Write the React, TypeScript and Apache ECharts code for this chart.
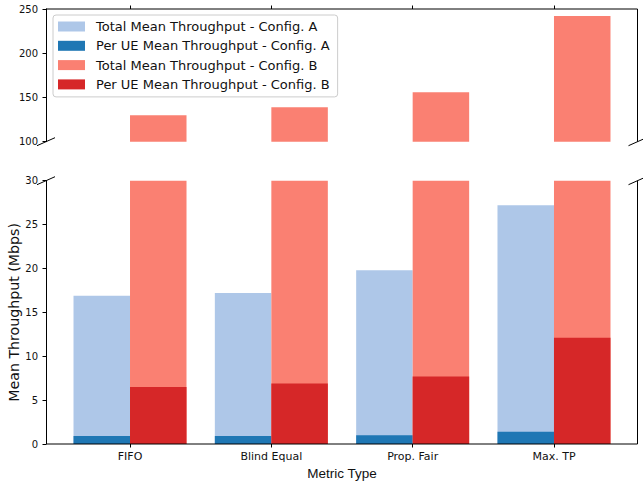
import React, { useEffect, useRef } from "react";
import * as echarts from "echarts";

const categories = ["FIFO", "Blind Equal", "Prop. Fair", "Max. TP"];
const totalA = [16.9, 17.2, 19.8, 27.2];
const perUEA = [0.9, 0.9, 1.0, 1.4];
const totalB = [130, 139, 156, 242];
const perUEB = [6.5, 6.9, 7.7, 12.1];

const topRange = { min: 100, max: 250, interval: 50 };
const bottomRange = { min: 0, max: 30, interval: 5 };

const names = {
  totalA: "Total Mean Throughput - Config. A",
  perA: "Per UE Mean Throughput - Config. A",
  totalB: "Total Mean Throughput - Config. B",
  perB: "Per UE Mean Throughput - Config. B",
};

const colors = {
  totalA: "#aec7e8",
  perA: "#1f77b4",
  totalB: "#fa8072",
  perB: "#d62728",
};

const FONT = "DejaVu Sans";
const TXT = "#111";

export default function App() {
  const ref = useRef<HTMLDivElement>(null);
  useEffect(() => {
    if (!ref.current) return;
    const chart = echarts.init(ref.current, null, { renderer: "svg" });

    const spineL = 46;
    const spineR = 637.5;
    const barLeft = 59.35;
    const barRight = 643 - 624.65;
    const topTop = 9;
    const topBottom = 141.7;
    const botTop = 180.7;
    const botBottom = 444;
    const barW = 56.5;

    const line = (x1: number, y1: number, x2: number, y2: number) => ({
      type: "line",
      shape: { x1, y1, x2, y2 },
      style: { stroke: "#000", lineWidth: 1 },
      silent: true,
      z: 100,
    });
    const brk = (x: number, y: number) => line(x - 9, y + 4, x + 9, y - 4);

    const yCommon = {
      type: "value",
      position: "left",
      offset: barLeft - spineL,
      splitLine: { show: false },
      axisLine: { show: true, lineStyle: { color: "#000", width: 1 } },
      axisTick: { show: true, length: 3.5, inside: false, lineStyle: { color: "#000" } },
      axisLabel: { color: TXT, fontFamily: FONT, fontSize: 10, margin: 8 },
    };

    const option: any = {
      animation: false,
      grid: [
        { left: barLeft, right: barRight, top: topTop, height: topBottom - topTop, containLabel: false, outerBoundsMode: "none" },
        { left: barLeft, right: barRight, top: botTop, height: botBottom - botTop, containLabel: false, outerBoundsMode: "none" },
      ],
      xAxis: [
        {
          type: "category",
          gridIndex: 0,
          position: "top",
          data: categories,
          axisLine: { show: false },
          axisTick: { show: true, alignWithLabel: true, length: 3.5, lineStyle: { color: "#000" } },
          axisLabel: { show: false },
        },
        {
          type: "category",
          gridIndex: 1,
          position: "bottom",
          data: categories,
          axisLine: { show: false },
          axisTick: { show: true, alignWithLabel: true, length: 3.5, lineStyle: { color: "#000" } },
          axisLabel: { color: TXT, fontFamily: FONT, fontSize: 11, margin: 7 },
          name: "Metric Type",
          nameLocation: "middle",
          nameGap: 22,
          nameMoveOverlap: false,
          nameTextStyle: { color: TXT, fontFamily: "Liberation Sans", fontSize: 13.5 },
        },
        {
          type: "category",
          gridIndex: 1,
          data: categories,
          show: false,
        },
      ],
      yAxis: [
        { ...yCommon, gridIndex: 0, ...topRange },
        {
          ...yCommon,
          gridIndex: 1,
          ...bottomRange,
          name: "Mean Throughput (Mbps)",
          nameLocation: "middle",
          nameRotate: 90,
          nameGap: 25,
          nameMoveOverlap: false,
          nameTextStyle: { color: TXT, fontFamily: FONT, fontSize: 14.2 },
        },
      ],
      legend: {
        orient: "vertical",
        left: 53,
        top: 15,
        padding: [5, 8, 6, 5],
        itemWidth: 27,
        itemHeight: 10,
        itemGap: 6.3,
        icon: "rect",
        backgroundColor: "rgba(255,255,255,0.85)",
        borderColor: "#cccccc",
        borderWidth: 1,
        borderRadius: 3,
        textStyle: { color: TXT, fontFamily: FONT, fontSize: 13, lineHeight: 13, padding: [0, 0, 0, 6] },
        data: [names.totalA, names.perA, names.totalB, names.perB],
      },
      series: [
        {
          type: "bar", name: names.totalA, xAxisIndex: 0, yAxisIndex: 0,
          data: totalA, barWidth: barW, barGap: "0%", clip: true,
          itemStyle: { color: colors.totalA },
        },
        {
          type: "bar", name: names.totalB, xAxisIndex: 0, yAxisIndex: 0,
          data: totalB, barWidth: barW, barGap: "0%", clip: true,
          itemStyle: { color: colors.totalB },
        },
        {
          type: "bar", name: names.totalA, xAxisIndex: 1, yAxisIndex: 1,
          data: totalA, barWidth: barW, barGap: "0%", clip: true,
          itemStyle: { color: colors.totalA },
        },
        {
          type: "bar", name: names.totalB, xAxisIndex: 1, yAxisIndex: 1,
          data: totalB, barWidth: barW, barGap: "0%", clip: true,
          itemStyle: { color: colors.totalB },
        },
        {
          type: "bar", name: names.perA, xAxisIndex: 2, yAxisIndex: 1,
          data: perUEA, barWidth: barW, barGap: "0%", clip: true, z: 3,
          itemStyle: { color: colors.perA },
        },
        {
          type: "bar", name: names.perB, xAxisIndex: 2, yAxisIndex: 1,
          data: perUEB, barWidth: barW, barGap: "0%", clip: true, z: 3,
          itemStyle: { color: colors.perB },
        },
      ],
      graphic: [
        line(spineL, topTop, spineR, topTop),
        line(spineR, topTop, spineR, topBottom),
        line(spineL, botBottom, spineR, botBottom),
        line(spineR, botTop, spineR, botBottom),
        brk(spineL, topBottom),
        brk(spineR, topBottom),
        brk(spineL, botTop),
        brk(spineR, botTop),
      ],
    };
    chart.setOption(option);
    return () => chart.dispose();
  }, []);

  return (
    <div
      ref={ref}
      style={{ position: "fixed", left: 0, top: 0, width: 643, height: 486, background: "#fff" }}
    />
  );
}
